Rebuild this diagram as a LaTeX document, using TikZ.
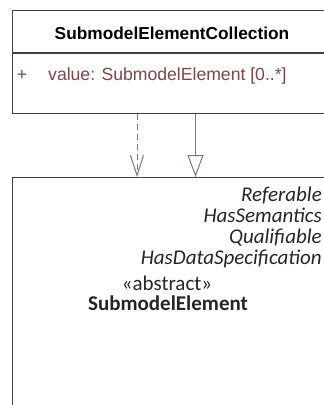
\documentclass[tikz,border=0pt]{standalone}
\usepackage{fontspec}
\setmainfont{Liberation Sans}
\newfontfamily\arialf{Liberation Sans}
\newfontfamily\calf{Carlito}
\usetikzlibrary{arrows.meta,calc}
\definecolor{boxc}{HTML}{404040}
\definecolor{attrc}{HTML}{7A4848}
\definecolor{arrc}{HTML}{6E7B95}
\definecolor{itc}{HTML}{262626}
\tikzset{
  classbox/.style={draw=boxc, line width=1.2pt, fill=white, rectangle, inner sep=0pt, anchor=north west},
  titletext/.style={anchor=base, inner sep=0pt, font=\arialf\bfseries\fontsize{17.3}{20}\selectfont},
  attrtext/.style={anchor=base west, inner sep=0pt, text=attrc, font=\arialf\fontsize{17.6}{20}\selectfont},
  ittext/.style={anchor=base east, inner sep=0pt, text=itc, font=\calf\itshape\fontsize{21}{24}\selectfont},
  nametext/.style={anchor=base, inner sep=0pt, text=itc, font=\calf\fontsize{21}{24}\selectfont},
  dep/.style={draw=arrc, line width=1pt, dash pattern=on 6pt off 4pt, -{Straight Barb[length=20pt,width=13pt,line width=1pt]}},
  gen/.style={draw=arrc, line width=1pt, -{Triangle[open,length=22pt,width=16pt,line width=1pt,fill=white]}}
}
\begin{document}
\begin{tikzpicture}[x=1pt,y=-1pt]
\useasboundingbox (0,0) rectangle (324,405);
\fill[white] (0,0) rectangle (324,405);
% top class
\node[classbox, minimum width=320pt, minimum height=103pt] (coll) at (12,10) {};
\draw[boxc, line width=1.2pt] ($(coll.north west)+(0,43)$) coordinate (sepL) -- (sepL -| coll.east);
\node[titletext] (ctitle) at (172,39.5) {SubmodelElementCollection};
\node[anchor=base, inner sep=0pt, text=attrc, font=\arialf\fontsize{17.6}{20}\selectfont] (plus) at (22,80) {+};
\node[attrtext] (cattr) at (48,80) {value: SubmodelElement [0..*]};
% bottom class
\node[classbox, minimum width=320pt, minimum height=240pt] (elem) at (12,177) {};
\node[ittext] (t1) at (322,201) {Referable};
\node[ittext] (t2) at (322,222) {HasSemantics};
\node[ittext] (t3) at (322,243) {Qualifiable};
\node[ittext] (t4) at (322,264) {HasDataSpecification};
\node[nametext] (st) at (167,290) {«abstract»};
\node[nametext, font=\calf\bfseries\fontsize{21}{24}\selectfont] (nm) at (168,310) {SubmodelElement};
% connectors
\draw[dep] ($(coll.south west)+(125,0)$) -- ($(elem.north west)+(125,0)$);
\draw[gen] ($(coll.south west)+(183.5,0)$) -- ($(elem.north west)+(183.5,0)$);
\end{tikzpicture}
\end{document}
